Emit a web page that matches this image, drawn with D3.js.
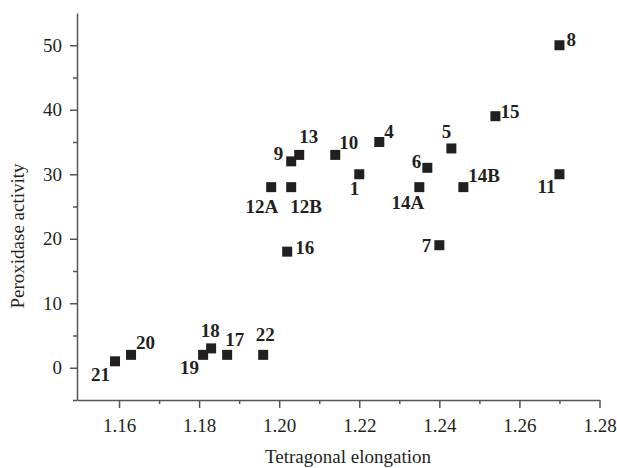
<!DOCTYPE html>
<html>
<head>
<meta charset="utf-8">
<script src="https://cdn.jsdelivr.net/npm/d3@7"></script>
<style>
  body { margin: 0; background: #fff; }
  svg text { font-family: "Liberation Serif", "Times New Roman", serif; fill: #231f20; }
</style>
</head>
<body>
<svg id="chart" width="617" height="468"></svg>
<script>
// compound labels, tetragonal elongation and peroxidase activity
const names = ["1", "4", "5", "6", "7", "8", "9", "10", "11", "12A", "12B", "13",
  "14A", "14B", "15", "16", "17", "18", "19", "20", "21", "22"];
const elongation = [1.220, 1.225, 1.243, 1.237, 1.240, 1.270, 1.203, 1.214, 1.270, 1.198, 1.203, 1.205,
  1.235, 1.246, 1.254, 1.202, 1.187, 1.183, 1.181, 1.163, 1.159, 1.196];
const activity = [30, 35, 34, 31, 19, 50, 32, 33, 30, 28, 28, 33,
  28, 28, 39, 18, 2, 3, 2, 2, 1, 2];
const xTicks = [1.16, 1.18, 1.20, 1.22, 1.24, 1.26, 1.28];
const yTicks = [0, 10, 20, 30, 40, 50];

// where each label sits relative to its point: [dx, dy, anchor]
const labelPos = {
  "1": [0, 21, "end"], "4": [5, -4, "start"], "5": [0, -10, "end"], "6": [-6, 0, "end"],
  "7": [-8, 7, "end"], "8": [7, 1, "start"], "9": [-8, -1, "end"], "10": [4, -6, "start"],
  "11": [-4, 19, "end"], "12A": [7, 26, "end"], "12B": [-1, 26, "start"], "13": [0, -12, "start"],
  "14A": [5, 22, "end"], "14B": [5, -5, "start"], "15": [5, 2, "start"], "16": [8, 2, "start"],
  "17": [-2, -9, "start"], "18": [-1, -11, "middle"], "19": [-4, 19, "end"], "20": [5, -6, "start"],
  "21": [-5, 20, "end"], "22": [2, -14, "middle"]
};

const data = names.map((n, i) => ({ name: n, x: elongation[i], y: activity[i] }));

const svg = d3.select("#chart");
const ink = "#231f20";

const x = d3.scaleLinear().domain([1.1495, 1.28]).range([77, 599.5]);
const y = d3.scaleLinear().domain([-5, 55]).range([400, 13]);

// x axis with major and minor ticks
svg.append("g").attr("transform", `translate(0,${y(-5)})`)
  .call(d3.axisBottom(x).tickValues(xTicks).tickFormat(d3.format(".2f")).tickSize(8).tickPadding(11).tickSizeOuter(0));
svg.append("g").attr("transform", `translate(0,${y(-5)})`)
  .call(d3.axisBottom(x).tickValues([1.17, 1.19, 1.21, 1.23, 1.25, 1.27]).tickFormat("").tickSize(4).tickSizeOuter(0))
  .select(".domain").remove();

svg.append("g").attr("transform", `translate(${x(1.1495)},0)`)
  .call(d3.axisLeft(y).tickValues(yTicks).tickSize(7).tickPadding(8).tickSizeOuter(0));
svg.append("g").attr("transform", `translate(${x(1.1495)},0)`)
  .call(d3.axisLeft(y).tickValues([-5, 5, 15, 25, 35, 45]).tickFormat("").tickSize(4).tickSizeOuter(0))
  .select(".domain").remove();

svg.selectAll(".domain, .tick line").attr("stroke", "#555").attr("stroke-width", 1.5);
svg.selectAll(".tick text").attr("font-size", 19).attr("fill", "#333")
  .attr("font-family", "Liberation Serif, serif");

// axis titles
svg.append("text").attr("x", 348).attr("y", 463).attr("text-anchor", "middle")
  .attr("font-size", 19).attr("fill", "#333").text("Tetragonal elongation");
svg.append("text").attr("transform", "translate(24,236) rotate(-90)").attr("text-anchor", "middle")
  .attr("font-size", 19).attr("fill", "#333").text("Peroxidase activity");

// points
const s = 10;
svg.append("g").selectAll("rect").data(data).join("rect")
  .attr("x", d => x(d.x) - s / 2).attr("y", d => y(d.y) - s / 2)
  .attr("width", s).attr("height", s).attr("fill", ink);

svg.append("g").selectAll("text").data(data).join("text")
  .attr("x", d => x(d.x) + labelPos[d.name][0])
  .attr("y", d => y(d.y) + labelPos[d.name][1])
  .attr("text-anchor", d => labelPos[d.name][2])
  .attr("font-size", 19).attr("font-weight", "bold")
  .text(d => d.name);
</script>
</body>
</html>
